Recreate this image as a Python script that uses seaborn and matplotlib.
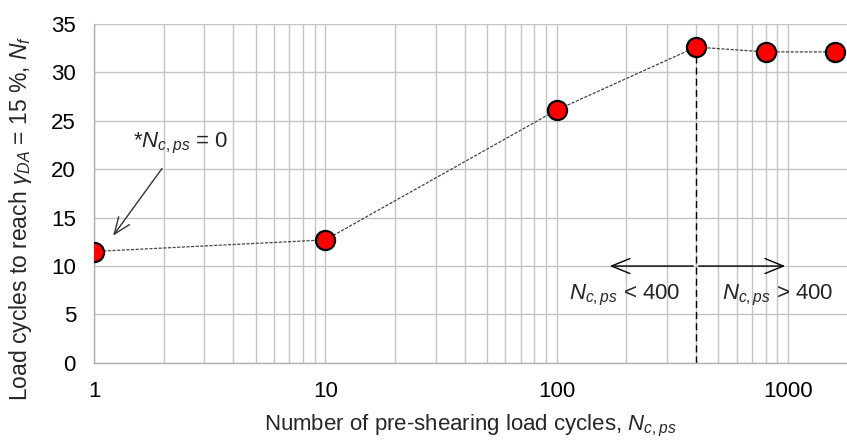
import matplotlib
matplotlib.use("Agg")
import matplotlib.pyplot as plt
import numpy as np
import pandas as pd
import seaborn as sns

# pre-shearing cycles (x) vs cycles to failure (y)
pre_cycles = [1, 10, 100, 400, 800, 1600]
failure_cycles = [11.5, 12.7, 26.1, 32.6, 32.1, 32.1]
x_ticks = [1, 10, 100, 1000]
y_ticks = [0, 5, 10, 15, 20, 25, 30, 35]
threshold = 400

sns.set_theme(style="whitegrid")
plt.rcParams["font.family"] = ["Liberation Sans", "DejaVu Sans"]
plt.rcParams["mathtext.fontset"] = "custom"
plt.rcParams["mathtext.rm"] = "Liberation Sans"
plt.rcParams["mathtext.it"] = "Liberation Sans:italic"

df = pd.DataFrame({"n_ps": pre_cycles, "n_f": failure_cycles})

fig = plt.figure(figsize=(8.47, 4.41), dpi=100)
ax = fig.add_axes([0.111, 0.177, 0.889, 0.769])

sns.lineplot(data=df, x="n_ps", y="n_f", ax=ax, color="#444444",
             linewidth=0.9, linestyle=(0, (2.5, 1.2)), zorder=3)
sns.scatterplot(data=df, x="n_ps", y="n_f", ax=ax, color="#ff0000",
                edgecolor="black", linewidth=1.6, s=190, zorder=4)

ax.set_xscale("log")
ax.set_xlim(1, 1800)
ax.set_ylim(0, 35)
ax.set_xticks(x_ticks)
ax.set_xticklabels([str(v) for v in x_ticks])
ax.set_yticks(y_ticks)

ax.grid(which="major", color="#c4c4c4", linewidth=1.0)
ax.grid(which="minor", axis="x", color="#c4c4c4", linewidth=1.0)
ax.tick_params(which="both", length=0, labelsize=16, colors="black")
ax.tick_params(axis="x", pad=13)
ax.tick_params(axis="y", pad=13)
for side in ["top", "right"]:
    ax.spines[side].set_visible(False)
for side in ["left", "bottom"]:
    ax.spines[side].set_color("#b0b0b0")
    ax.spines[side].set_linewidth(1.0)

ax.set_xlabel("Number of pre-shearing load cycles, $\\mathit{N}_{c,ps}$",
              fontsize=16, labelpad=8)
ax.set_ylabel("Load cycles to reach $\\gamma_{DA}$ = 15 %, $\\mathit{N}_f$",
              fontsize=16.5)
ax.yaxis.set_label_coords(-0.08, 0.428)

# vertical threshold line
ax.plot([threshold, threshold], [0, failure_cycles[3]], color="black",
        linestyle=(0, (5, 3)), linewidth=1.0, zorder=2)

# arrows to both sides of the threshold
ax.annotate("", xy=(165, 10), xytext=(threshold, 10),
            arrowprops=dict(arrowstyle="->,head_length=1.1,head_width=0.45",
                            color="black", lw=1.0))
ax.annotate("", xy=(1000, 10), xytext=(threshold, 10),
            arrowprops=dict(arrowstyle="->,head_length=1.1,head_width=0.45",
                            color="black", lw=1.0))
ax.text(197, 7.0, "$\\mathit{N}_{c,ps}$ < 400", fontsize=16,
        ha="center", va="center")
ax.text(900, 7.0, "$\\mathit{N}_{c,ps}$ > 400", fontsize=16,
        ha="center", va="center")

# annotation for the zero pre-shearing point
ax.annotate("", xy=(1.19, 12.9), xytext=(2.0, 20.3),
            arrowprops=dict(arrowstyle="->,head_length=1.0,head_width=0.4",
                            color="#333333", lw=1.0))
ax.text(2.36, 22.7, "*$\\mathit{N}_{c,ps}$ = 0", fontsize=16,
        ha="center", va="center")

fig.savefig("out.png", dpi=100)
